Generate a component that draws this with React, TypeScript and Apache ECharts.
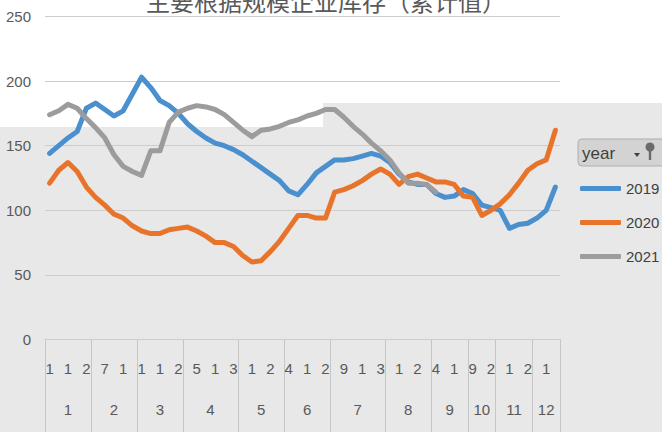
import React, { useEffect, useRef } from "react";
import * as echarts from "echarts";

const titleText = "主要根据规模企业库存（累计值）";
const monthNames = ["1", "2", "3", "4", "5", "6", "7", "8", "9", "10", "11", "12"];
const monthCounts = [5, 5, 5, 6, 5, 5, 6, 5, 4, 3, 4, 3];
const innerLabels = ["1", "1", "2", "7", "1", "1", "1", "2", "5", "1", "3", "1", "2", "4", "1", "2", "9", "1", "3", "1", "2", "4", "1", "9", "2", "1", "2", "1"];
const years = ["2019", "2020", "2021"];

const values2019 = [144, 150, 156, 161, 179, 183, 178, 173, 177, 190, 203, 195, 185, 181, 175, 167, 161, 156, 152, 150, 147, 143, 138, 133, 128, 123, 115, 112, 120, 129, 134, 139, 139, 140, 142, 144, 142, 137, 128, 122, 120, 120, 113, 110, 111, 116, 113, 104, 102, 100, 86, 89, 90, 94, 100, 118];
const values2020 = [121, 131, 137, 130, 118, 110, 104, 97, 94, 88, 84, 82, 82, 85, 86, 87, 84, 80, 75, 75, 72, 65, 60, 61, 68, 76, 86, 96, 96, 94, 94, 114, 116, 119, 123, 128, 132, 128, 120, 126, 128, 125, 122, 122, 120, 111, 110, 96, 100, 105, 112, 121, 131, 136, 139, 162];
const values2021 = [174, 177, 182, 179, 171, 164, 156, 143, 134, 130, 127, 146, 146, 168, 176, 179, 181, 180, 178, 174, 168, 162, 157, 162, 163, 165, 168, 170, 173, 175, 178, 178, 172, 165, 159, 152, 146, 139, 129, 121, 121, 120, 114];

const colors = ["#4a8fce", "#e8742c", "#9c9c9c"];
const FONT = "'Liberation Sans', Arial, sans-serif";
const TEXT = "#595959";

export default function App() {
  const ref = useRef<HTMLDivElement>(null);
  useEffect(() => {
    if (!ref.current) return;
    const chart = echarts.init(ref.current, undefined, { renderer: "svg" });

    const categories: string[] = [];
    const monthStart = new Set<number>();
    const monthLabelIdx = new Map<number, { name: string; even: boolean }>();
    let idx = 0;
    monthCounts.forEach((c, m) => {
      monthStart.add(idx);
      monthLabelIdx.set(idx + Math.floor((c - 1) / 2), { name: monthNames[m], even: c % 2 === 0 });
      for (let j = 0; j < c; j++) categories.push(monthNames[m] + "-" + j);
      idx += c;
    });

    const pad = (arr: number[]) => categories.map((_, i) => (i < arr.length ? arr[i] : null));

    const option: any = {
      animation: false,
      backgroundColor: "#e8e8e8",
      grid: { left: 45, right: 102, top: 16.5, bottom: 92.5, containLabel: false },
      legend: {
        data: years,
        orient: "vertical",
        left: 580,
        top: 181,
        padding: 0,
        itemWidth: 41,
        itemHeight: 5,
        itemGap: 19,
        itemTextGap: 4,
        icon: "roundRect",
        textStyle: { fontSize: 15, color: "#404040", fontFamily: FONT },
      },
      xAxis: [
        {
          type: "category",
          data: categories,
          position: "bottom",
          boundaryGap: true,
          axisLine: { show: true, lineStyle: { color: "#cdcdcd", width: 1 } },
          axisTick: {
            show: true,
            interval: (i: number) => monthStart.has(i),
            length: 95,
            lineStyle: { color: "#c6c6c6", width: 1 },
          },
          axisLabel: {
            interval: 1,
            margin: 21,
            fontSize: 15,
            color: TEXT,
            fontFamily: FONT,
            formatter: (_v: string, i: number) => innerLabels[Math.round(i / 2)] ?? "",
          },
          splitLine: { show: false },
        },
        {
          type: "category",
          data: categories,
          position: "bottom",
          boundaryGap: true,
          axisLine: { show: false },
          axisTick: { show: false },
          axisLabel: {
            interval: (i: number) => monthLabelIdx.has(i),
            margin: 62,
            fontSize: 15,
            color: TEXT,
            fontFamily: FONT,
            formatter: (_v: string, i: number) => {
              const info = monthLabelIdx.get(i);
              if (!info) return "";
              return info.even ? "{s|" + info.name + "}" : "{n|" + info.name + "}";
            },
            rich: {
              n: { fontSize: 15, color: TEXT, fontFamily: FONT },
              s: { fontSize: 15, color: TEXT, fontFamily: FONT, padding: [0, 0, 0, 9.2] },
            },
          },
          splitLine: { show: false },
        },
      ],
      yAxis: {
        type: "value",
        min: 0,
        max: 250,
        interval: 50,
        axisLine: { show: false },
        axisTick: { show: false },
        axisLabel: { margin: 14, fontSize: 15, color: TEXT, fontFamily: FONT },
        splitLine: { show: true, lineStyle: { color: "#cdcdcd", width: 1 } },
      },
      series: [values2019, values2020, values2021].map((vals, k) => ({
        name: years[k],
        type: "line",
        data: pad(vals),
        xAxisIndex: 0,
        symbol: "none",
        connectNulls: false,
        itemStyle: { color: colors[k] },
        lineStyle: { color: colors[k], width: 5, cap: "round", join: "round" },
        z: 3,
      })),
      graphic: [
        { type: "rect", z: -100, silent: true, shape: { x: 0, y: 0, width: 662, height: 103 }, style: { fill: "#ffffff" } },
        { type: "rect", z: -100, silent: true, shape: { x: 0, y: 103, width: 323, height: 24 }, style: { fill: "#ffffff" } },
        {
          type: "text",
          z: 100,
          x: 326,
          y: 0,
          style: {
            text: titleText,
            align: "center",
            verticalAlign: "middle",
            fontSize: 24,
            fill: TEXT,
            fontFamily: "'Noto Sans CJK SC', sans-serif",
          },
        },
        {
          type: "group",
          z: 100,
          children: [
            { type: "rect", shape: { x: 578, y: 139, width: 92, height: 27, r: 4 }, style: { fill: "#d3d3d3", stroke: "#aeaeae", lineWidth: 1 } },
            { type: "text", x: 582, y: 153, style: { text: "year", fontSize: 17, fill: "#404040", fontFamily: FONT, verticalAlign: "middle" } },
            { type: "polygon", shape: { points: [[634, 153], [640, 153], [637, 157]] }, style: { fill: "#404040" } },
            { type: "circle", shape: { cx: 650, cy: 147, r: 4.5 }, style: { fill: "#6a6a6a" } },
            { type: "rect", shape: { x: 648.8, y: 149, width: 2.4, height: 11 }, style: { fill: "#6a6a6a" } },
          ],
        },
      ],
    };
    chart.setOption(option);
    return () => chart.dispose();
  }, []);
  return <div ref={ref} style={{ position: "fixed", left: 0, top: 0, width: 662, height: 432 }} />;
}
